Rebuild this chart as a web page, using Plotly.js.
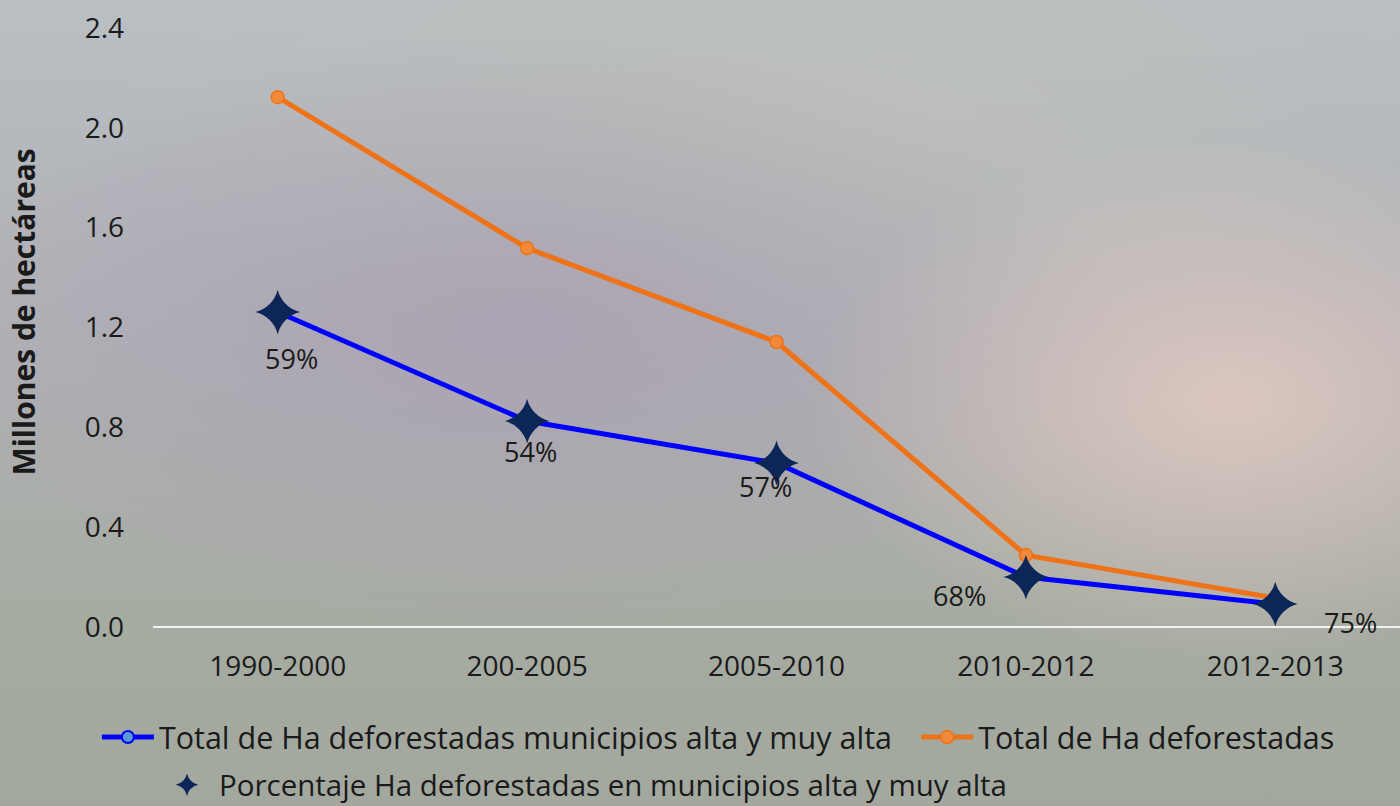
<!DOCTYPE html>
<html>
<head>
<meta charset="utf-8">
<script src="https://cdn.plot.ly/plotly-3.0.1.min.js"></script>
<style>
html, body { margin:0; padding:0; width:1400px; height:806px; overflow:hidden; }
body {
  background:
    radial-gradient(ellipse 420px 260px at 1230px 400px, rgba(222,200,192,0.95), rgba(222,200,192,0) 100%),
    radial-gradient(ellipse 600px 300px at 520px 330px, rgba(170,162,178,0.9), rgba(170,162,178,0) 100%),
    radial-gradient(ellipse 700px 250px at 800px 120px, rgba(190,192,185,0.8), rgba(190,192,185,0) 100%),
    linear-gradient(180deg, #b9bfc3 0%, #b0b1b6 40%, #a7aca3 75%, #a3a89f 100%);
}
#chart { width:1400px; height:806px; }
</style>
</head>
<body>
<div id="chart"></div>
<script>
const categories = ["1990-2000", "200-2005", "2005-2010", "2010-2012", "2012-2013"];
const totalAltaMuyAlta = [1.262, 0.825, 0.657, 0.200, 0.092];
const totalDeforestadas = [2.123, 1.518, 1.142, 0.288, 0.116];
const porcentajeLabels = ["59%", "54%", "57%", "68%", "75%"];
const yTicks = [0, 0.4, 0.8, 1.2, 1.6, 2.0, 2.4];
const yTickLabels = ["0.0", "0.4", "0.8", "1.2", "1.6", "2.0", "2.4"];

const FONT = "'Open Sans', Lato, sans-serif";
const TXT = "#1a1a1a";

// label offsets (pixels) relative to each star
const labelShift = [[14, -46], [3, -30], [-11, -23], [-66, -18], [75, -18]];

const traces = [
  {
    x: categories, y: totalAltaMuyAlta, type: "scatter", mode: "lines+markers",
    name: "Total de Ha deforestadas municipios alta y muy alta",
    line: { color: "#0000ff", width: 5 },
    marker: { symbol: "circle", size: 12, color: "#5b9bd5", line: { color: "#0000ff", width: 2 } },
    legend: "legend"
  },
  {
    x: categories, y: totalDeforestadas, type: "scatter", mode: "lines+markers",
    name: "Total de Ha deforestadas",
    line: { color: "#ee7318", width: 5 },
    marker: { symbol: "circle", size: 13, color: "#f0893a", line: { color: "#ee7318", width: 1.5 } },
    legend: "legend3"
  },
  {
    x: categories, y: totalAltaMuyAlta, type: "scatter", mode: "markers",
    name: "Porcentaje Ha deforestadas en municipios alta y muy alta",
    marker: { symbol: "star-diamond", size: 32, color: "#0c2657", line: { width: 0 } },
    legend: "legend2"
  }
];

const annotations = categories.map((c, i) => ({
  x: c, y: totalAltaMuyAlta[i], xref: "x", yref: "y",
  text: porcentajeLabels[i], showarrow: false,
  xshift: labelShift[i][0], yshift: labelShift[i][1],
  font: { family: FONT, size: 27, color: TXT }
}));

const legendFont = { family: FONT, size: 30.5, color: TXT };

const layout = {
  width: 1400, height: 806,
  paper_bgcolor: "rgba(0,0,0,0)", plot_bgcolor: "rgba(0,0,0,0)",
  margin: { l: 153, r: 0, t: 28, b: 179, autoexpand: false },
  font: { family: FONT, size: 26, color: TXT },
  showlegend: true,
  annotations: annotations,
  xaxis: {
    type: "category", range: [-0.5, 4.5], showgrid: false, showline: false, zeroline: false,
    automargin: false,
    ticks: "", tickfont: { family: FONT, size: 28, color: TXT }, ticklabelstandoff: 20
  },
  yaxis: {
    range: [0, 2.4], tickvals: yTicks, ticktext: yTickLabels, automargin: false,
    showgrid: false, zeroline: true, zerolinecolor: "#f2f2f2", zerolinewidth: 2,
    showline: false, ticks: "", tickfont: { family: FONT, size: 28, color: TXT }, ticklabelstandoff: 28,
    title: { text: "&nbsp;&nbsp;&nbsp;&nbsp;<b>Millones de hectáreas</b>", font: { family: FONT, size: 30, color: TXT }, standoff: 40 }
  },
  legend: {
    orientation: "h", x: -0.045, xanchor: "left", y: -0.184, yanchor: "middle",
    itemwidth: 52, font: legendFont, bgcolor: "rgba(0,0,0,0)"
  },
  legend3: {
    orientation: "h", x: 0.612, xanchor: "left", y: -0.184, yanchor: "middle",
    itemwidth: 52, font: legendFont, bgcolor: "rgba(0,0,0,0)"
  },
  legend2: {
    orientation: "h", x: 0.0016, xanchor: "left", y: -0.264, yanchor: "middle",
    itemwidth: 54, font: { family: FONT, size: 29.5, color: TXT }, bgcolor: "rgba(0,0,0,0)"
  }
};

Plotly.newPlot("chart", traces, layout, { displayModeBar: false, staticPlot: true });
</script>
</body>
</html>
